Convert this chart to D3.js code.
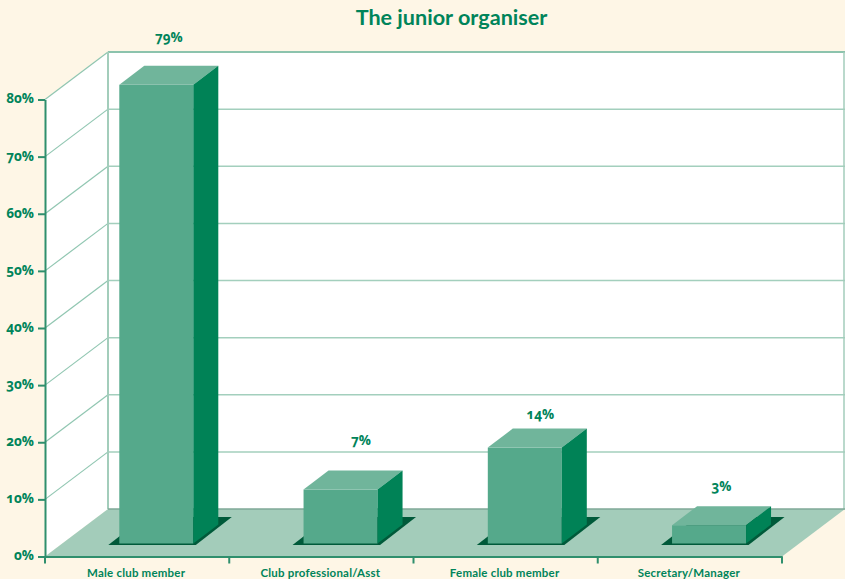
<!DOCTYPE html>
<html lang="en">
  <head>
    <meta charset="UTF-8" />
    <title>The junior organiser</title>
    <script src="https://d3js.org/d3.v7.min.js"></script>
    <style>
      body { margin: 0; padding: 0; background: #fef6e6; }
      svg { display: block; }
      text {
        font-family: "Open Sans", sans-serif;
        font-weight: 700;
        fill: #00845a;
        font-feature-settings: "onum" 1;
      }
      .title { font-family: Lato, sans-serif; font-size: 21.6px; }
      .tick-label { font-size: 13.5px; }
      .cat-label { font-family: Lato, sans-serif; font-size: 11.5px; letter-spacing: 0.2px; }
      .axis path, .axis line { stroke: #2f8f6d; stroke-width: 2px; }
    </style>
  </head>
  <body>
    <script>
      // Data. Bars are drawn a bit taller than their printed labels.
      const categories = ["Male club member", "Club professional/Asst", "Female club member", "Secretary/Manager"];
      const barHeights = [80.3, 9.45, 16.8, 3.2];
      const valueLabels = ["79%", "7%", "14%", "3%"];
      const yTicks = [0, 10, 20, 30, 40, 50, 60, 70, 80];

      const width = 845, height = 579;
      const svg = d3.select("body").append("svg").attr("width", width).attr("height", height);

      const x = d3.scaleBand().domain(categories).range([45, 782]);
      const y = d3.scaleLinear().domain([0, 80]).range([556.5, 99.5]);

      // Chart depth, and the depth of each box
      const depthX = 63, depthY = -47.5;
      const barW = 74, barDX = 25, barDY = -19;
      const barInset = 74.3, barLift = 13;
      // value labels sit unevenly above the boxes in the original
      const labelGap = [29, 31, 15, 20];
      const labelNudge = [0, 8, 3, 0];

      const pts = a => a.map(p => p.join(",")).join(" ");

      svg.append("text").attr("class", "title")
        .attr("x", 451.5).attr("y", 25).attr("text-anchor", "middle")
        .text("The junior organiser");

      // Walls and floor
      const x0 = x.range()[0], x1 = x.range()[1];
      const backL = x0 + depthX, backR = x1 + depthX;
      const yTop = y(80), yBase = y(0);
      svg.append("polygon").attr("fill", "#fff")
        .attr("points", pts([[x0, yBase], [x0, yTop], [backL, yTop + depthY], [backR, yTop + depthY], [backR, yBase + depthY], [backL, yBase + depthY]]));
      svg.append("polygon").attr("fill", "#a3ccba")
        .attr("points", pts([[x0, yBase], [x1, yBase], [backR, yBase + depthY], [backL, yBase + depthY]]));

      // Grid lines
      const grid = svg.append("g").attr("fill", "none");
      grid.selectAll(".back").data(yTicks.slice(1)).join("line")
        .attr("x1", backL).attr("x2", backR)
        .attr("y1", d => y(d) + depthY).attr("y2", d => y(d) + depthY)
        .attr("stroke", d => d === 80 ? "#8cc3ad" : "#a3cfbd")
        .attr("stroke-width", d => d === 80 ? 2 : 1.5);
      grid.selectAll(".side").data(yTicks.slice(1)).join("line")
        .attr("x1", x0).attr("x2", backL)
        .attr("y1", d => y(d)).attr("y2", d => y(d) + depthY)
        .attr("stroke", "#90c6b1").attr("stroke-width", 1.2);
      grid.append("line").attr("x1", backL).attr("x2", backL)
        .attr("y1", yTop + depthY).attr("y2", yBase + depthY)
        .attr("stroke", "#a3cdbb").attr("stroke-width", 2);
      grid.append("line").attr("x1", backR - 1).attr("x2", backR - 1)
        .attr("y1", yTop + depthY).attr("y2", yBase + depthY)
        .attr("stroke", "#a3cdbb").attr("stroke-width", 1.5);
      grid.append("line").attr("x1", backL).attr("x2", backR)
        .attr("y1", yBase + depthY).attr("y2", yBase + depthY)
        .attr("stroke", "#7fa897").attr("stroke-width", 1.5);

      // Bars
      const data = categories.map((c, i) => ({ c, h: barHeights[i], label: valueLabels[i], gap: labelGap[i], nudge: labelNudge[i] }));
      const bars = svg.selectAll(".bar").data(data).join("g").attr("class", "bar");
      const bx = d => x(d.c) + barInset;
      const by = d => y(0) - barLift;
      const bt = d => by(d) - (y(0) - y(d.h));

      bars.append("polygon").attr("fill", "#005a3a")
        .attr("points", d => pts([
          [bx(d) - 11, by(d) + 1.5], [bx(d) + barW + 2.5, by(d) + 1.5],
          [bx(d) + barW + 38.5, by(d) - 26.5], [bx(d) + 25, by(d) - 26.5]]));
      bars.append("rect").attr("fill", "#55a98b")
        .attr("x", bx).attr("y", bt).attr("width", barW).attr("height", d => by(d) - bt(d));
      bars.append("polygon").attr("fill", "#70b59b")
        .attr("points", d => pts([
          [bx(d), bt(d)], [bx(d) + barW, bt(d)],
          [bx(d) + barW + barDX, bt(d) + barDY], [bx(d) + barDX, bt(d) + barDY]]));
      bars.append("polygon").attr("fill", "#008256")
        .attr("points", d => pts([
          [bx(d) + barW, bt(d)], [bx(d) + barW + barDX, bt(d) + barDY],
          [bx(d) + barW + barDX, by(d) + barDY], [bx(d) + barW, by(d)]]));
      bars.append("text").attr("class", "tick-label").attr("text-anchor", "middle")
        .attr("x", d => bx(d) + barW / 2 + barDX / 2 + d.nudge)
        .attr("y", d => bt(d) + barDY - d.gap + 5)
        .text(d => d.label);

      // Axes
      const yAxis = d3.axisLeft(y).tickValues(yTicks).tickSize(7).tickSizeOuter(0).tickPadding(4).tickFormat(d => d + "%");
      const gy = svg.append("g").attr("class", "axis").attr("transform", `translate(${x0},0)`).call(yAxis);
      gy.attr("font-family", null).attr("font-size", null);
      gy.selectAll("text").attr("class", "tick-label").attr("dy", "0.25em");

      const xAxis = d3.axisBottom(x).tickSize(0).tickPadding(12);
      const gx = svg.append("g").attr("class", "axis").attr("transform", `translate(0,${yBase})`).call(xAxis);
      gx.attr("font-family", null).attr("font-size", null);
      gx.selectAll("text").attr("class", "cat-label").attr("dx", -1);
      gx.selectAll(".edge").data([x0, ...categories.map(c => x(c) + x.bandwidth())]).join("line")
        .attr("class", "edge").attr("x1", d => d).attr("x2", d => d).attr("y1", 0).attr("y2", 7);
    </script>
  </body>
</html>
